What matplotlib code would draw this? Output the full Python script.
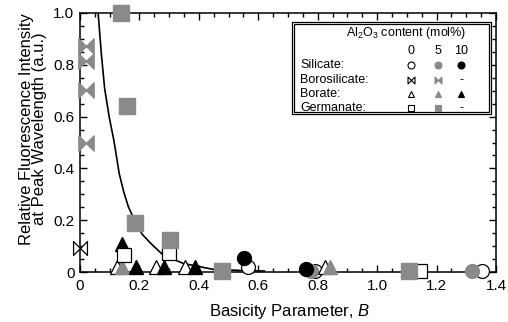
import numpy as np
import matplotlib
matplotlib.use('Agg')
import matplotlib.pyplot as plt
from matplotlib.patches import Rectangle
from matplotlib.path import Path

plt.rcParams['font.family'] = ['Liberation Sans', 'DejaVu Sans']
plt.rcParams['mathtext.fontset'] = 'custom'
plt.rcParams['mathtext.rm'] = 'Liberation Sans'
plt.rcParams['mathtext.it'] = 'Liberation Sans:italic'
plt.rcParams['mathtext.default'] = 'regular'

# Data
silicate_0_x = [0.567, 0.79, 1.352]
silicate_0_y = [0.02, 0.005, 0.003]
silicate_5_x = [0.776, 1.32]
silicate_5_y = [0.005, 0.003]
silicate_10_x = [0.553, 0.76]
silicate_10_y = [0.055, 0.012]

borosilicate_0_x = [0.0]
borosilicate_0_y = [0.092]
borosilicate_5_x = [0.02, 0.02, 0.02, 0.02]
borosilicate_5_y = [0.873, 0.815, 0.704, 0.50]

borate_0_x = [0.125, 0.257, 0.355, 0.825]
borate_0_y = [0.018, 0.018, 0.018, 0.018]
borate_5_x = [0.14, 0.842]
borate_5_y = [0.018, 0.018]
borate_10_x = [0.14, 0.19, 0.283, 0.387]
borate_10_y = [0.108, 0.018, 0.018, 0.018]

germanate_0_x = [0.148, 0.30, 1.145]
germanate_0_y = [0.065, 0.073, 0.003]
germanate_5_x = [0.138, 0.157, 0.185, 0.303, 0.479, 1.108]
germanate_5_y = [1.0, 0.642, 0.19, 0.123, 0.003, 0.003]

# fitted guide curve
curve_x = [0.061, 0.072, 0.083, 0.098, 0.114, 0.122, 0.132, 0.147, 0.163, 0.176, 0.185,
           0.21, 0.236, 0.28, 0.348, 0.449, 0.54, 0.62]
curve_y = [1.0, 0.84, 0.708, 0.60, 0.508, 0.451, 0.38, 0.31, 0.251, 0.219, 0.19,
           0.145, 0.113, 0.065, 0.033, 0.010, 0.006, 0.004]

gray = '#8a8a8a'

bowtie = Path([(-1, -1), (-1, 1), (1, -1), (1, 1), (-1, -1)],
              [Path.MOVETO, Path.LINETO, Path.LINETO, Path.LINETO, Path.CLOSEPOLY])

fig = plt.figure(figsize=(5.08, 3.22), dpi=100)
ax = fig.add_axes([80 / 508, 50 / 322, 416 / 508, 259 / 322])

ax.plot(curve_x, curve_y, color='black', lw=1.2, zorder=2)

kw = dict(ls='none', clip_on=False, zorder=3)
# circles
ax.plot(silicate_0_x, silicate_0_y, marker='o', ms=10, mfc='white', mec='black', mew=0.9, **kw)
ax.plot(silicate_5_x, silicate_5_y, marker='o', ms=10, mfc=gray, mec=gray, **kw)
ax.plot(silicate_10_x, silicate_10_y, marker='o', ms=10, mfc='black', mec='black', **kw)
# bowties
ax.plot(borosilicate_0_x, borosilicate_0_y, marker=bowtie, ms=10, mfc='white', mec='black', mew=0.9, **kw)
ax.plot(borosilicate_5_x, borosilicate_5_y, marker=bowtie, ms=11, mfc=gray, mec=gray, **kw)
# triangles
ax.plot(borate_0_x, borate_0_y, marker='^', ms=10, mfc='white', mec='black', mew=0.9, **kw)
ax.plot(borate_5_x, borate_5_y, marker='^', ms=10, mfc=gray, mec=gray, **kw)
ax.plot(borate_10_x, borate_10_y, marker='^', ms=10, mfc='black', mec='black', **kw)
# squares
ax.plot(germanate_0_x, germanate_0_y, marker='s', ms=10, mfc='white', mec='black', mew=0.9, **kw)
ax.plot(germanate_5_x, germanate_5_y, marker='s', ms=11.5, mfc=gray, mec=gray, **kw)

ax.set_xlim(0, 1.4)
ax.set_ylim(0, 1.0)
ax.set_xticks(np.arange(0, 1.41, 0.2))
ax.set_xticklabels(['0', '0.2', '0.4', '0.6', '0.8', '1.0', '1.2', '1.4'])
ax.set_yticks(np.arange(0, 1.01, 0.2))
ax.set_yticklabels(['0', '0.2', '0.4', '0.6', '0.8', '1.0'])
ax.set_xticks(np.arange(0, 1.41, 0.05), minor=True)
ax.set_yticks(np.arange(0, 1.01, 0.05), minor=True)
ax.tick_params(which='both', direction='in', top=True, right=True, labelsize=11, width=1)
ax.tick_params(which='major', length=5)
ax.tick_params(which='minor', length=3)
ax.tick_params(axis='y', pad=4)
ax.tick_params(axis='x', pad=5)
for s in ax.spines.values():
    s.set_linewidth(1.1)

ax.set_xlabel('Basicity Parameter, $\\mathit{B}$', fontsize=12)
ax.xaxis.set_label_coords(0.505, -0.115)
ax.set_ylabel('Relative Fluorescence Intensity\nat Peak Wavelength (a.u.)', fontsize=12,
              linespacing=0.85)
ax.yaxis.set_label_coords(-0.08, 0.552)

# legend box (double border)
ax.add_patch(Rectangle((0.510, 0.610), 0.478, 0.355, transform=ax.transAxes,
                       fill=True, fc='white', ec='black', lw=0.9, zorder=5))
ax.add_patch(Rectangle((0.515, 0.618), 0.468, 0.340, transform=ax.transAxes,
                       fill=False, ec='black', lw=0.9, zorder=5))

lkw = dict(transform=ax.transAxes, fontsize=9, zorder=6, va='center')
ax.text(0.783, 0.923, 'Al$_2$O$_3$ content (mol%)', ha='center', **lkw)
cols = [0.795, 0.861, 0.917]
for cx, lab in zip(cols, ['0', '5', '10']):
    ax.text(cx, 0.855, lab, ha='center', **lkw)

rows = ['Silicate:', 'Borosilicate:', 'Borate:', 'Germanate:']
row_y = [0.799, 0.741, 0.686, 0.632]
row_markers = ['o', bowtie, '^', 's']
row_has = [[True, True, True], [True, True, False], [True, True, True], [True, True, False]]
fills = ['white', gray, 'black']
edges = ['black', gray, 'black']
for name, ry, mk, has in zip(rows, row_y, row_markers, row_has):
    ax.text(0.529, ry, name, ha='left', **lkw)
    for cx, h, fc, ec in zip(cols, has, fills, edges):
        if h:
            ax.plot([cx], [ry], marker=mk, ms=5, mfc=fc, mec=ec, mew=0.8,
                    transform=ax.transAxes, zorder=6, ls='none', clip_on=False)
        else:
            ax.text(cx, ry, '-', ha='center', **lkw)

fig.savefig('out.png', dpi=100)
